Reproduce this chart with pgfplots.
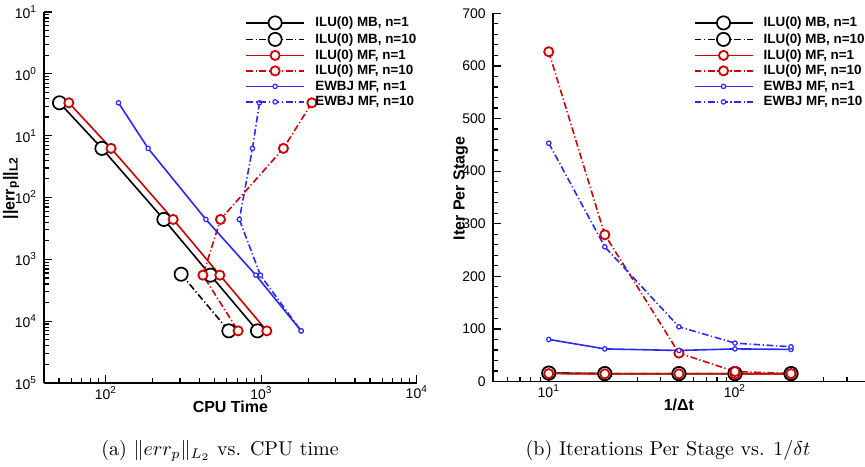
\documentclass[border=0pt]{standalone}
\usepackage{fontspec}
\setsansfont{Liberation Sans}
\usepackage{pgfplots}
\pgfplotsset{compat=1.18}

\definecolor{myred}{RGB}{210,0,0}
\definecolor{myblue}{RGB}{40,40,255}

\newcommand{\tl}{\sffamily\fontsize{7}{8}\selectfont}
\newcommand{\lb}{\sffamily\bfseries\fontsize{8}{9.6}\selectfont}
\newcommand{\e}[1]{10\textsuperscript{#1}}

\tikzset{
  dd/.style={dash pattern=on 3.4pt off 1.3pt on 0.6pt off 1.3pt},
  mb1/.style={black, line width=0.8pt, mark=*, mark size=3.3pt, mark options={solid, fill=white, line width=0.85pt}},
  mb10/.style={mb1, dd},
  mf1/.style={myred, line width=0.8pt, mark=*, mark size=2.3pt, mark options={solid, fill=white, line width=0.9pt}},
  mf10/.style={mf1, dd},
  ew1/.style={myblue, line width=0.8pt, mark=*, mark size=1.1pt, mark options={solid, fill=white, line width=0.6pt}},
  ew10/.style={ew1, dd},
}

\pgfplotsset{
  myaxis/.style={
    scale only axis, anchor=south west,
    axis x line*=bottom, axis y line*=left,
    axis line style={-, line width=0.9pt},
    tick align=inside,
    major tick length=4pt, minor tick length=2.5pt,
    tick style={black, line width=0.6pt},
    ticklabel style={font=\tl},
    xticklabel style={yshift=2pt},
    /pgf/number format/assume math mode=true,
    label style={font=\lb},
    xlabel style={at={(axis description cs:0.5,0)}, anchor=center, yshift=-11.75pt},
    legend style={draw=none, fill=none, font=\sffamily\bfseries\fontsize{6.7}{7}\selectfont,
      anchor=north west, inner sep=0pt, row sep=1.65pt, column sep=5.2pt,
      nodes={inner sep=0pt, text height=4.9pt, text depth=1.2pt}},
    legend cell align=left,
    legend image code/.code={\draw[mark repeat=2,mark phase=2] plot coordinates {(0pt,0pt) (14.5pt,0pt) (29pt,0pt)};},
    clip=false,
  },
}

\begin{document}
\begin{tikzpicture}
\useasboundingbox (0,0) rectangle (432.5pt,233pt);

\begin{axis}[myaxis, at={(22pt,41.5pt)}, width=186.4pt, height=185.5pt,
  xmode=log, ymode=log, xmin=40, xmax=10000, ymin=1e-5, ymax=10,
  xtick={100,1000,10000}, xticklabels={\e{2},\e{3},\e{4}},
  minor xtick={50,60,70,80,90,200,300,400,500,600,700,800,900,2000,3000,4000,5000,6000,7000,8000,9000},
  ytick={1e-5,1e-4,1e-3,1e-2,1e-1,1,10},
  yticklabels={\e{5},\e{4},\e{3},\e{2},\e{1},\e{0},\e{1}},
  minor ytick={2e-5,3e-5,4e-5,5e-5,6e-5,7e-5,8e-5,9e-5,
    2e-4,3e-4,4e-4,5e-4,6e-4,7e-4,8e-4,9e-4,
    2e-3,3e-3,4e-3,5e-3,6e-3,7e-3,8e-3,9e-3,
    2e-2,3e-2,4e-2,5e-2,6e-2,7e-2,8e-2,9e-2,
    2e-1,3e-1,4e-1,5e-1,6e-1,7e-1,8e-1,9e-1,
    2,3,4,5,6,7,8,9},
  xlabel={CPU Time},
  ylabel={||err\textsubscript{p}||\textsubscript{L2}},
  ylabel style={at={(axis description cs:-0.088,0.526)}, anchor=center},
  legend style={at={(0.539,0.9895)}},
]
\addplot[mb1] coordinates {(50.3,0.34) (94.3,0.0623) (236,0.00442) (471,5.55e-4) (944,6.97e-5)};
\addlegendentry{ILU(0) MB, n=1}
\addplot[mb10] coordinates {(305,5.75e-4) (618,6.97e-5)};
\addlegendentry{ILU(0) MB, n=10}
\addplot[mf1] coordinates {(57.8,0.34) (108,0.0623) (271,0.00442) (541,5.55e-4) (1084,6.97e-5)};
\addlegendentry{ILU(0) MF, n=1}
\addplot[mf10] coordinates {(2113,0.34) (1387,0.0623) (546,0.00442) (421,5.55e-4) (709,6.97e-5)};
\addlegendentry{ILU(0) MF, n=10}
\addplot[ew1] coordinates {(120.5,0.34) (187,0.0623) (440,0.00442) (922,5.55e-4) (1803,6.97e-5)};
\addlegendentry{EWBJ MF, n=1}
\addplot[ew10] coordinates {(973,0.34) (877,0.0623) (722,0.00442) (986,5.55e-4) (1803,6.97e-5)};
\addlegendentry{EWBJ MF, n=10}
\end{axis}

\begin{axis}[myaxis, at={(246.35pt,42.25pt)}, width=186.2pt, height=184.1pt,
  xmode=log, xmin=5, xmax=500, ymin=0, ymax=700,
  xtick={10,100}, xticklabels={\e{1},\e{2}},
  minor xtick={6,7,8,9,20,30,40,50,60,70,80,90,200,300,400},
  ytick={0,100,200,300,400,500,600,700}, minor y tick num=4,
  xlabel={1/Δt},
  ylabel={Iter Per Stage},
  ylabel style={at={(axis description cs:-0.086,0.524)}, anchor=center},
  legend style={at={(0.5387,0.993)}},
]
\addplot[mb1] coordinates {(10,16) (20,15) (50,15) (100,15) (200,15)};
\addlegendentry{ILU(0) MB, n=1}
\addplot[mb10] coordinates {(10,16) (20,15) (50,15) (100,15) (200,15)};
\addlegendentry{ILU(0) MB, n=10}
\addplot[mf1] coordinates {(10,15) (20,14.5) (50,14.5) (100,14.5) (200,14.5)};
\addlegendentry{ILU(0) MF, n=1}
\addplot[mf10] coordinates {(10,627) (20,279) (50,54) (100,19) (200,15)};
\addlegendentry{ILU(0) MF, n=10}
\addplot[ew1] coordinates {(10,80) (20,62) (50,59) (100,62) (200,61)};
\addlegendentry{EWBJ MF, n=1}
\addplot[ew10] coordinates {(10,453) (20,256) (50,104) (100,73) (200,66)};
\addlegendentry{EWBJ MF, n=10}
\end{axis}

\node[font=\fontsize{10}{12}\selectfont, anchor=base] at (110pt,5.5pt) {(a) $\|err_p\|_{L_2}$ vs. CPU time};
\node[font=\fontsize{10}{12}\selectfont, anchor=base] at (334pt,5.5pt) {(b) Iterations Per Stage vs. $1/\delta t$};
\end{tikzpicture}
\end{document}
